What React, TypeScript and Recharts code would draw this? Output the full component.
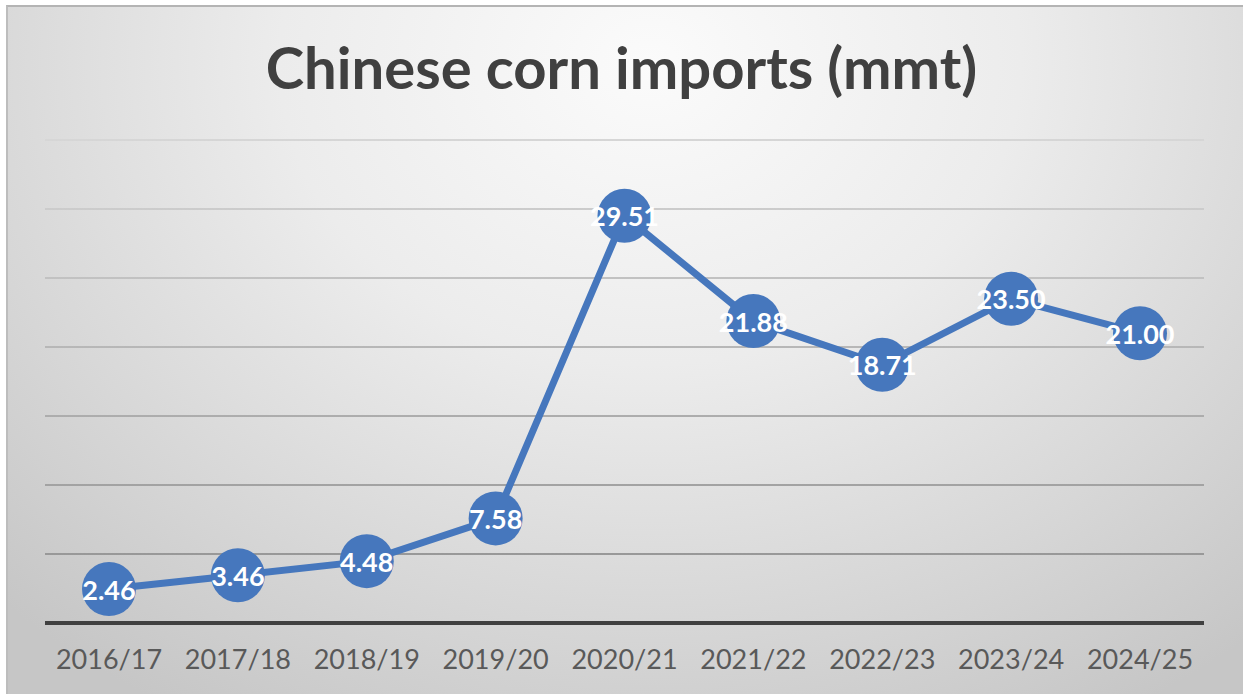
import React from 'react';
import { LineChart, Line, XAxis, YAxis, CartesianGrid, LabelList } from 'recharts';

const seasons = ['2016/17', '2017/18', '2018/19', '2019/20', '2020/21', '2021/22', '2022/23', '2023/24', '2024/25'];
const imports = [2.46, 3.46, 4.48, 7.58, 29.51, 21.88, 18.71, 23.5, 21.0];
const yTicks = [0, 5, 10, 15, 20, 25, 30, 35];

const data = seasons.map((season, i) => ({ season, value: imports[i] }));

const BLUE = '#4677bd';

const PointLabel = (props: any) => {
  const { x, y, value } = props;
  return (
    <text
      x={x}
      y={y}
      textAnchor="middle"
      dominantBaseline="central"
      fill="#ffffff"
      fontFamily="Lato, 'Open Sans', sans-serif"
      fontWeight={700}
      fontSize={27}
    >
      {Number(value).toFixed(2)}
    </text>
  );
};

const SeasonTick = (props: any) => {
  const { x, y, payload } = props;
  return (
    <text x={x} y={y + 38} textAnchor="middle" fill="#595959" fontFamily="Lato, 'Open Sans', sans-serif" fontSize={27}>
      {payload.value}
    </text>
  );
};

export default function App() {
  return (
    <div style={{ position: 'absolute', left: 0, top: 0, width: 1243, height: 694, background: '#ffffff' }}>
      <div
        style={{
          position: 'absolute',
          left: 6,
          top: 5,
          width: 1237,
          height: 689,
          boxSizing: 'border-box',
          borderTop: '2px solid #b4b4b4',
          borderLeft: '2px solid #bdbdbd',
          background: 'radial-gradient(ellipse 75% 110% at 52% 8%, #fbfbfb 0%, #ececec 40%, #d6d6d6 75%, #c6c6c6 100%)',
        }}
      />
      <div
        style={{
          position: 'absolute',
          left: 0,
          top: 34,
          width: 1243,
          textAlign: 'center',
          fontFamily: "Lato, 'Open Sans', sans-serif",
          fontWeight: 700,
          fontSize: 58,
          lineHeight: '66px',
          color: '#404040',
        }}
      >
        Chinese corn imports (mmt)
      </div>
      <div style={{ position: 'absolute', left: 0, top: 0 }}>
        <LineChart width={1243} height={694} data={data} margin={{ top: 140, right: 39, bottom: 11, left: 45 }}>
          <defs>
            <linearGradient id="gridGrad" gradientUnits="userSpaceOnUse" x1="0" y1="140" x2="0" y2="623">
              <stop offset="0%" stopColor="#d6d6d6" />
              <stop offset="100%" stopColor="#8e8e8e" />
            </linearGradient>
          </defs>
          <CartesianGrid vertical={false} stroke="url(#gridGrad)" strokeWidth={2} />
          <YAxis hide domain={[0, 35]} ticks={yTicks} />
          <XAxis
            dataKey="season"
            height={60}
            padding={{ left: 64, right: 64 }}
            axisLine={{ stroke: '#404040', strokeWidth: 4 }}
            tickLine={false}
            tick={<SeasonTick />}
            interval={0}
          />
          <Line
            type="linear"
            dataKey="value"
            stroke={BLUE}
            strokeWidth={7}
            dot={{ r: 27, fill: BLUE, stroke: 'none' }}
            activeDot={false}
            isAnimationActive={false}
          >
            <LabelList dataKey="value" content={<PointLabel />} />
          </Line>
        </LineChart>
      </div>
    </div>
  );
}
